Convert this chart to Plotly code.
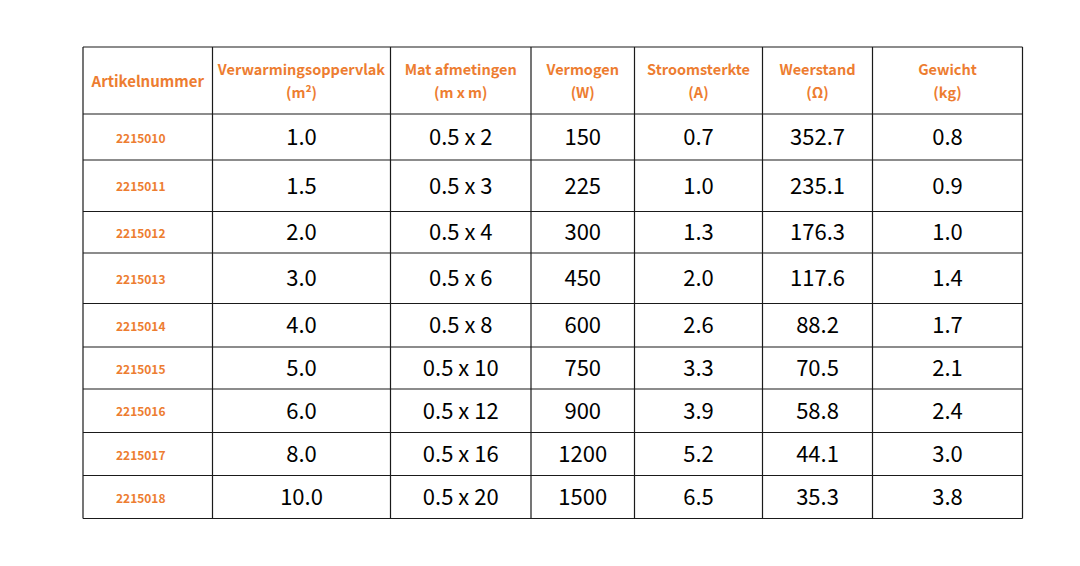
import plotly.graph_objects as go

# ---- data ----
header_line1 = ["Artikelnummer", "Verwarmingsoppervlak", "Mat afmetingen", "Vermogen",
                "Stroomsterkte", "Weerstand", "Gewicht"]
header_line2 = ["", "(m²)", "(m x m)", "(W)", "(A)", "(Ω)", "(kg)"]

article = ["2215010", "2215011", "2215012", "2215013", "2215014",
           "2215015", "2215016", "2215017", "2215018"]
area_m2 = [1.0, 1.5, 2.0, 3.0, 4.0, 5.0, 6.0, 8.0, 10.0]
mat_width = [0.5, 0.5, 0.5, 0.5, 0.5, 0.5, 0.5, 0.5, 0.5]
mat_length = [2, 3, 4, 6, 8, 10, 12, 16, 20]
power_w = [150, 225, 300, 450, 600, 750, 900, 1200, 1500]
current_a = [0.7, 1.0, 1.3, 2.0, 2.6, 3.3, 3.9, 5.2, 6.5]
resistance_ohm = [352.7, 235.1, 176.3, 117.6, 88.2, 70.5, 58.8, 44.1, 35.3]
weight_kg = [0.8, 0.9, 1.0, 1.4, 1.7, 2.1, 2.4, 3.0, 3.8]

# ---- layout geometry (page pixels) ----
W, H = 1080, 566
PAGE_MARGIN = 8  # default body margin of the html page
col_edges = [83, 212.5, 390.5, 531, 634.5, 762.5, 872.5, 1022.5]
row_edges = [47, 114, 160, 211.5, 253, 303.5, 347, 389, 432.5, 475.5, 518.5]
TEXT_DY = 2.5          # text sits slightly below the cell centre
ARTICLE_DX = -7        # article numbers sit slightly left of centre
ORANGE = "#ED7D31"
LINE = "#1a1a1a"
FONT = "Noto Sans CJK SC"

columns = [
    article,
    [f"{v:.1f}" for v in area_m2],
    [f"{w} x {l}" for w, l in zip(mat_width, mat_length)],
    [str(v) for v in power_w],
    [f"{v:.1f}" for v in current_a],
    [f"{v:.1f}" for v in resistance_ohm],
    [f"{v:.1f}" for v in weight_kg],
]

col_centers = [(a + b) / 2 for a, b in zip(col_edges[:-1], col_edges[1:])]
row_centers = [(a + b) / 2 + TEXT_DY for a, b in zip(row_edges[1:-1], row_edges[2:])]
head_c = (row_edges[0] + row_edges[1]) / 2 + TEXT_DY

fig = go.Figure()

# body cells
for ci, vals in enumerate(columns):
    if ci == 0:
        font = dict(family=FONT, size=12, color=ORANGE, weight="bold")
        xc = col_centers[ci] + ARTICLE_DX
    else:
        font = dict(family=FONT, size=22, color="#000000")
        xc = col_centers[ci]
    fig.add_trace(go.Scatter(
        x=[xc] * len(vals), y=row_centers, text=vals,
        mode="text", textposition="middle center", textfont=font,
        hoverinfo="skip", showlegend=False))

# header cells
for ci, (t1, t2) in enumerate(zip(header_line1, header_line2)):
    if t2:
        xs, ys, ts = [col_centers[ci]] * 2, [head_c - 11.5, head_c + 11.5], [t1, t2]
        size = 14.5
    else:
        xs, ys, ts = [col_centers[ci]], [head_c], [t1]
        size = 15
    fig.add_trace(go.Scatter(
        x=xs, y=ys, text=ts, mode="text", textposition="middle center",
        textfont=dict(family=FONT, size=size, color=ORANGE, weight="bold"),
        hoverinfo="skip", showlegend=False))

# grid lines
shapes = []
for x in col_edges:
    shapes.append(dict(type="line", x0=x, x1=x, y0=row_edges[0], y1=row_edges[-1],
                       line=dict(color=LINE, width=1.2), layer="above"))
for y in row_edges:
    shapes.append(dict(type="line", x0=col_edges[0], x1=col_edges[-1], y0=y, y1=y,
                       line=dict(color=LINE, width=1.2), layer="above"))

fig.update_layout(
    width=W - 2 * PAGE_MARGIN, height=H - 2 * PAGE_MARGIN,
    margin=dict(l=0, r=0, t=0, b=0),
    paper_bgcolor="white", plot_bgcolor="white",
    xaxis=dict(range=[PAGE_MARGIN, W - PAGE_MARGIN], visible=False, fixedrange=True),
    yaxis=dict(range=[H - PAGE_MARGIN, PAGE_MARGIN], visible=False, fixedrange=True),
    shapes=shapes,
)

fig.write_html("out.html", config={"displayModeBar": False})
